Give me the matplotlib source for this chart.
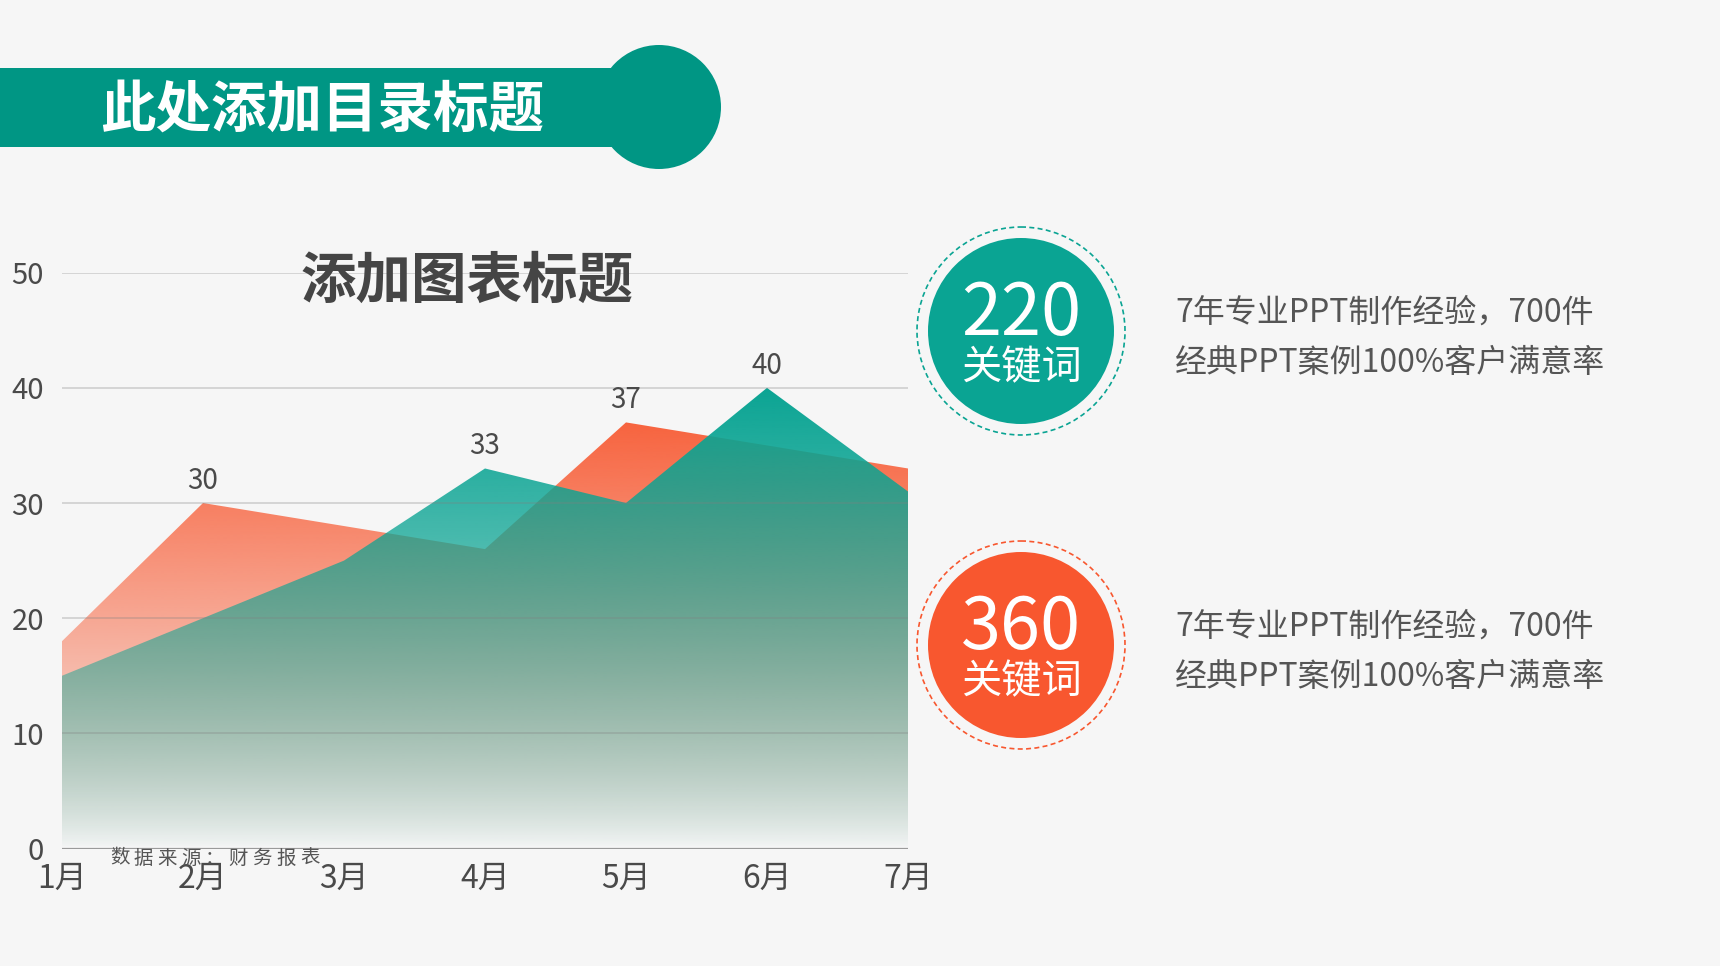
import numpy as np
import matplotlib
matplotlib.use('Agg')
import matplotlib.pyplot as plt
from matplotlib.patches import Polygon, Circle, Rectangle

plt.rcParams['font.family'] = ['Noto Sans CJK SC', 'DejaVu Sans']

# ---- data ----
months = ['1月', '2月', '3月', '4月', '5月', '6月', '7月']
orange_vals = [18, 30, 28, 26, 37, 35, 33]
teal_vals = [15, 20, 25, 33, 30, 40, 31]
label_points = [('orange', 1), ('teal', 3), ('orange', 4), ('teal', 5)]
y_ticks = [0, 10, 20, 30, 40, 50]

header_title = '此处添加目录标题'
chart_title = '添加图表标题'
source_note = '数据来源：财务报表'
badge_numbers = ['220', '360']
badge_caption = '关键词'
desc_lines = ['7年专业PPT制作经验，700件', '经典PPT案例100%客户满意率']

TEAL = '#0aa493'
HEADER_TEAL = '#009684'
ORANGE = '#f8572f'
TEXT = '#4a4a4a'

W, H = 1720, 966
fig = plt.figure(figsize=(W / 100, H / 100), dpi=100)
fig.patch.set_facecolor('#f6f6f6')


def gradient_fill(ax, xs, ys, color, gamma, z):
    """Fill area under ys with a colour fading to transparent at y=0."""
    verts = [(xs[0], 0)] + list(zip(xs, ys)) + [(xs[-1], 0)]
    poly = Polygon(verts, closed=True, facecolor='none', edgecolor='none')
    ax.add_patch(poly)
    yy = np.linspace(0, 50, 800)
    alpha = np.clip(yy / 40.0, 0, 1) ** gamma
    img = np.zeros((len(yy), 1, 4))
    img[..., :3] = matplotlib.colors.to_rgb(color)
    img[..., 3] = alpha[:, None]
    im = ax.imshow(img, extent=[xs[0], xs[-1], 0, 50], origin='lower',
                   aspect='auto', zorder=z, interpolation='bilinear')
    im.set_clip_path(poly)


# ---- chart ----
left, right = 62, 908
bottom, top = 848.5, 272.7
ax = fig.add_axes([left / W, 1 - bottom / H, (right - left) / W, (bottom - top) / H])
ax.set_facecolor('none')

x = np.arange(len(months))
gradient_fill(ax, x, orange_vals, ORANGE, 1.0, 1)
gradient_fill(ax, x, teal_vals, TEAL, 0.75, 2)

ax.set_xlim(x[0], x[-1])
ax.set_ylim(0, 50)
ax.set_yticks(y_ticks)
ax.set_xticks(x)
ax.set_xticklabels(months)
ax.set_axisbelow(False)
ax.grid(axis='y', color='#808080', alpha=0.3, lw=1.3)
ax.grid(axis='x', visible=False)
ax.axhline(0, color='#9a9a9a', lw=1.6, zorder=3)
for s in ax.spines.values():
    s.set_visible(False)
ax.tick_params(axis='y', length=0, pad=13, labelsize=21, labelcolor=TEXT)
ax.tick_params(axis='x', length=0, pad=10, labelsize=23, labelcolor=TEXT)

series = {'orange': orange_vals, 'teal': teal_vals}
for name, i in label_points:
    v = series[name][i]
    ax.annotate(str(v), (x[i], v), xytext=(0, 16), textcoords='offset points',
                ha='center', va='center', fontsize=20, color=TEXT, zorder=5)

ax.text(0.479, 0.985, chart_title, transform=ax.transAxes, ha='center', va='center',
        fontsize=40, fontweight='bold', color='#454545')
# note, drawn character by character to mimic the letter spacing
for k, ch in enumerate(source_note):
    fig.text((110 + 23.7 * k + 10) / W, 1 - 858 / H, ch, ha='center', va='center',
             fontsize=14, color='#555555')

# ---- overlay: header and badges ----
ov = fig.add_axes([0, 0, 1, 1], zorder=5)
ov.set_xlim(0, W)
ov.set_ylim(H, 0)
ov.axis('off')
ov.set_facecolor('none')

ov.add_patch(Rectangle((0, 68), 630, 79, facecolor=HEADER_TEAL, edgecolor='none'))
ov.add_patch(Circle((659, 107), 62, facecolor=HEADER_TEAL, edgecolor='none'))
ov.text(100, 111, header_title, ha='left', va='center', fontsize=40,
        fontweight='bold', color='white')

badge_colors = [TEAL, ORANGE]
badge_cy = [331, 645]
for num, col, cy in zip(badge_numbers, badge_colors, badge_cy):
    ov.add_patch(Circle((1021, cy), 93, facecolor=col, edgecolor='none'))
    ov.add_patch(Circle((1021, cy), 104, facecolor='none', edgecolor=col,
                        lw=1.2, linestyle=(0, (3, 2))))
    ov.text(1021, cy - 16, num, ha='center', va='center', fontsize=52,
            color='white')
    ov.text(1021, cy + 37, badge_caption, ha='center', va='center', fontsize=29,
            color='white')
    for j, line in enumerate(desc_lines):
        ov.text(1175, cy - 18 + 50 * j, line, ha='left', va='center',
                fontsize=23, color='#555555')

fig.savefig('out.png', dpi=100, facecolor=fig.get_facecolor())
